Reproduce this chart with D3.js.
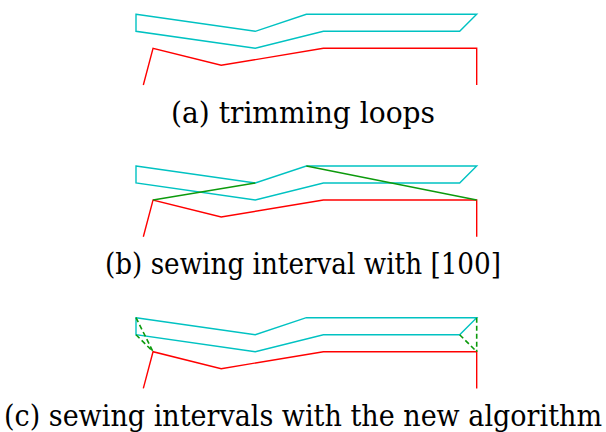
<!DOCTYPE html>
<html>
<head>
<meta charset="utf-8">
<script src="https://cdn.jsdelivr.net/npm/d3@7"></script>
<style>
  html, body { margin: 0; padding: 0; background: #fff; }
  svg { display: block; }
  .caption { font-family: "DejaVu Serif Condensed", "DejaVu Serif", serif; font-stretch: condensed; }
</style>
</head>
<body>
<svg id="fig" width="606" height="432"></svg>
<script>
// Grid coordinates: x in columns (0..20), y in rows counted downward from the top cyan edge.
const panels = ["a", "b", "c"];
const captions = [
  "(a) trimming loops",
  "(b) sewing interval with [100]",
  "(c) sewing intervals with the new algorithm"
];
const captionWidths = [264, 396, 598];
// closed trimming loop (cyan)
const loopPoints = [[0, 0], [7, 1], [10, 0], [20, 0], [19, 1], [11, 1], [7, 2], [0, 1]];
// open boundary curve (red)
const curvePoints = [[0.43, 4.16], [1, 2], [5, 3], [11, 2], [20, 2], [20, 4.16]];
// sewing segments found with [100] (solid green)
const sewSegmentsB = [
  [[1, 2], [7, 1]],
  [[10, 0], [20, 2]]
];
// sewing segments from the new algorithm (dashed green)
const sewSegmentsC = [
  [[0, 0], [1, 2]],
  [[0, 1], [1, 2]],
  [[20, 0], [20, 2]],
  [[19, 1], [20, 2]]
];

const svg = d3.select("#fig");
const x = d3.scaleLinear().domain([0, 20]).range([136, 476.7]);
const row = d3.scaleLinear().domain([0, 1]).range([0, 17]);
const panelTop = d3.scalePoint().domain(panels).range([14.3, 317.7]);
const captionBase = d3.scalePoint().domain(panels).range([122.5, 425.5]);

const CYAN = "#00c2c2", RED = "#ff0000", GREEN = "#0c9a0c";

const line = d3.line().x(d => x(d[0])).y(d => row(d[1]));

panels.forEach((p, i) => {
  const g = svg.append("g").attr("transform", `translate(0,${panelTop(p)})`);

  g.append("path")
    .attr("d", line(loopPoints) + "Z")
    .attr("fill", "none").attr("stroke", CYAN).attr("stroke-width", 1.4)
    .attr("stroke-linejoin", "miter");

  g.append("path")
    .attr("d", line(curvePoints))
    .attr("fill", "none").attr("stroke", RED).attr("stroke-width", 1.4);

  if (p === "b") {
    g.selectAll("path.sew").data(sewSegmentsB).join("path")
      .attr("class", "sew")
      .attr("d", d => line(d))
      .attr("fill", "none").attr("stroke", GREEN).attr("stroke-width", 1.4);
  }
  if (p === "c") {
    g.selectAll("path.sew").data(sewSegmentsC).join("path")
      .attr("class", "sew")
      .attr("d", d => line(d))
      .attr("fill", "none").attr("stroke", GREEN).attr("stroke-width", 1.6)
      .attr("stroke-dasharray", "5,3");
  }

  svg.append("text")
    .attr("class", "caption")
    .attr("x", 303)
    .attr("y", captionBase(p))
    .attr("text-anchor", "middle")
    .attr("font-size", 29)
    .attr("textLength", captionWidths[i])
    .attr("lengthAdjust", "spacingAndGlyphs")
    .attr("fill", "#000")
    .text(captions[i]);
});
</script>
</body>
</html>
